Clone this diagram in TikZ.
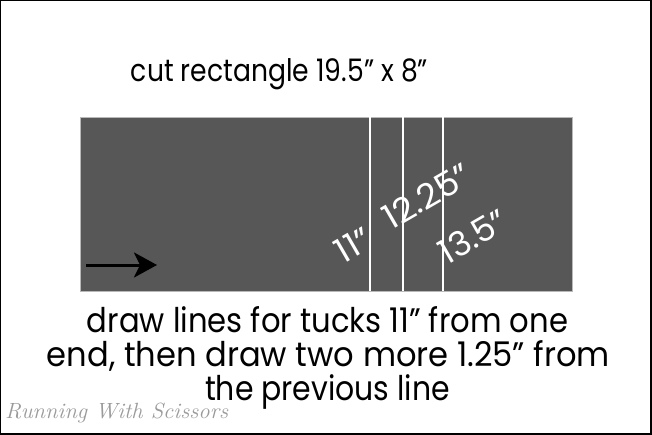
\documentclass[tikz,border=0pt]{standalone}
\usepackage{graphicx}
\usepackage{fontspec}
\newfontfamily\geo{Poppins}
\usetikzlibrary{arrows.meta}
\definecolor{board}{HTML}{575757}
\definecolor{wm}{HTML}{9A9A9A}
\newcommand\fitw[2]{\resizebox{#1}{\height}{#2}}
\tikzset{
  bodytext/.style={inner sep=0pt, anchor=base, font=\geo\fontsize{34}{34}\selectfont},
  titletext/.style={inner sep=0pt, anchor=base, font=\geo\fontsize{31}{32}\selectfont},
  meas/.style={inner sep=0pt, text=white, rotate=30, font=\geo\fontsize{34}{34}\selectfont},
  tuck/.style={draw=white, line width=2pt},
}
\begin{document}
\begin{tikzpicture}[x=1pt,y=-1pt]
\useasboundingbox (0,0) rectangle (652,435);
\fill[black] (0,0) rectangle (652,435);
\fill[white] (1,1) rectangle (650,433);
% fabric
\fill[board, draw=gray!55, line width=0.8pt] (80.5,117.5) rectangle (572.5,291);
\coordinate (t1) at (370,117.5); \coordinate (b1) at (370,291);
\coordinate (t2) at (403.3,117.5); \coordinate (b2) at (403.3,291);
\coordinate (t3) at (443.3,117.5); \coordinate (b3) at (443.3,291);
\draw[tuck] (t1) -- (b1);
\draw[tuck] (t2) -- (b2);
\draw[tuck] (t3) -- (b3);
% arrow
\coordinate (a0) at (86,265);
\coordinate (a1) at (157,265);
\draw[line width=3pt, -{Stealth[length=23pt,width=25pt,inset=6pt]}] (a0) -- (a1);
% labels
\node[meas] (m1) at (353,245) {\fitw{36pt}{11”}};
\node[meas] (m2) at (426.5,196) {\fitw{96pt}{12.25”}};
\node[meas] (m3) at (473,236) {\fitw{73pt}{13.5”}};
% texts
\node[titletext] (ttl) at (279.5,81.7) {\fitw{297pt}{cut rectangle 19.5” x 8”}};
\node[bodytext] (l1) at (327.5,332) {\fitw{481pt}{draw lines for tucks 11” from one}};
\node[bodytext] (l2) at (328.5,366) {\fitw{563pt}{end, then draw two more 1.25” from}};
\node[bodytext] (l3) at (327.5,400) {\fitw{245pt}{the previous line}};
\node[inner sep=0pt, anchor=base west, text=wm, font=\itshape\fontsize{22}{22}\selectfont] (wmk) at (5,418) {\fitw{223pt}{Running With Scissors}};
\end{tikzpicture}
\end{document}
